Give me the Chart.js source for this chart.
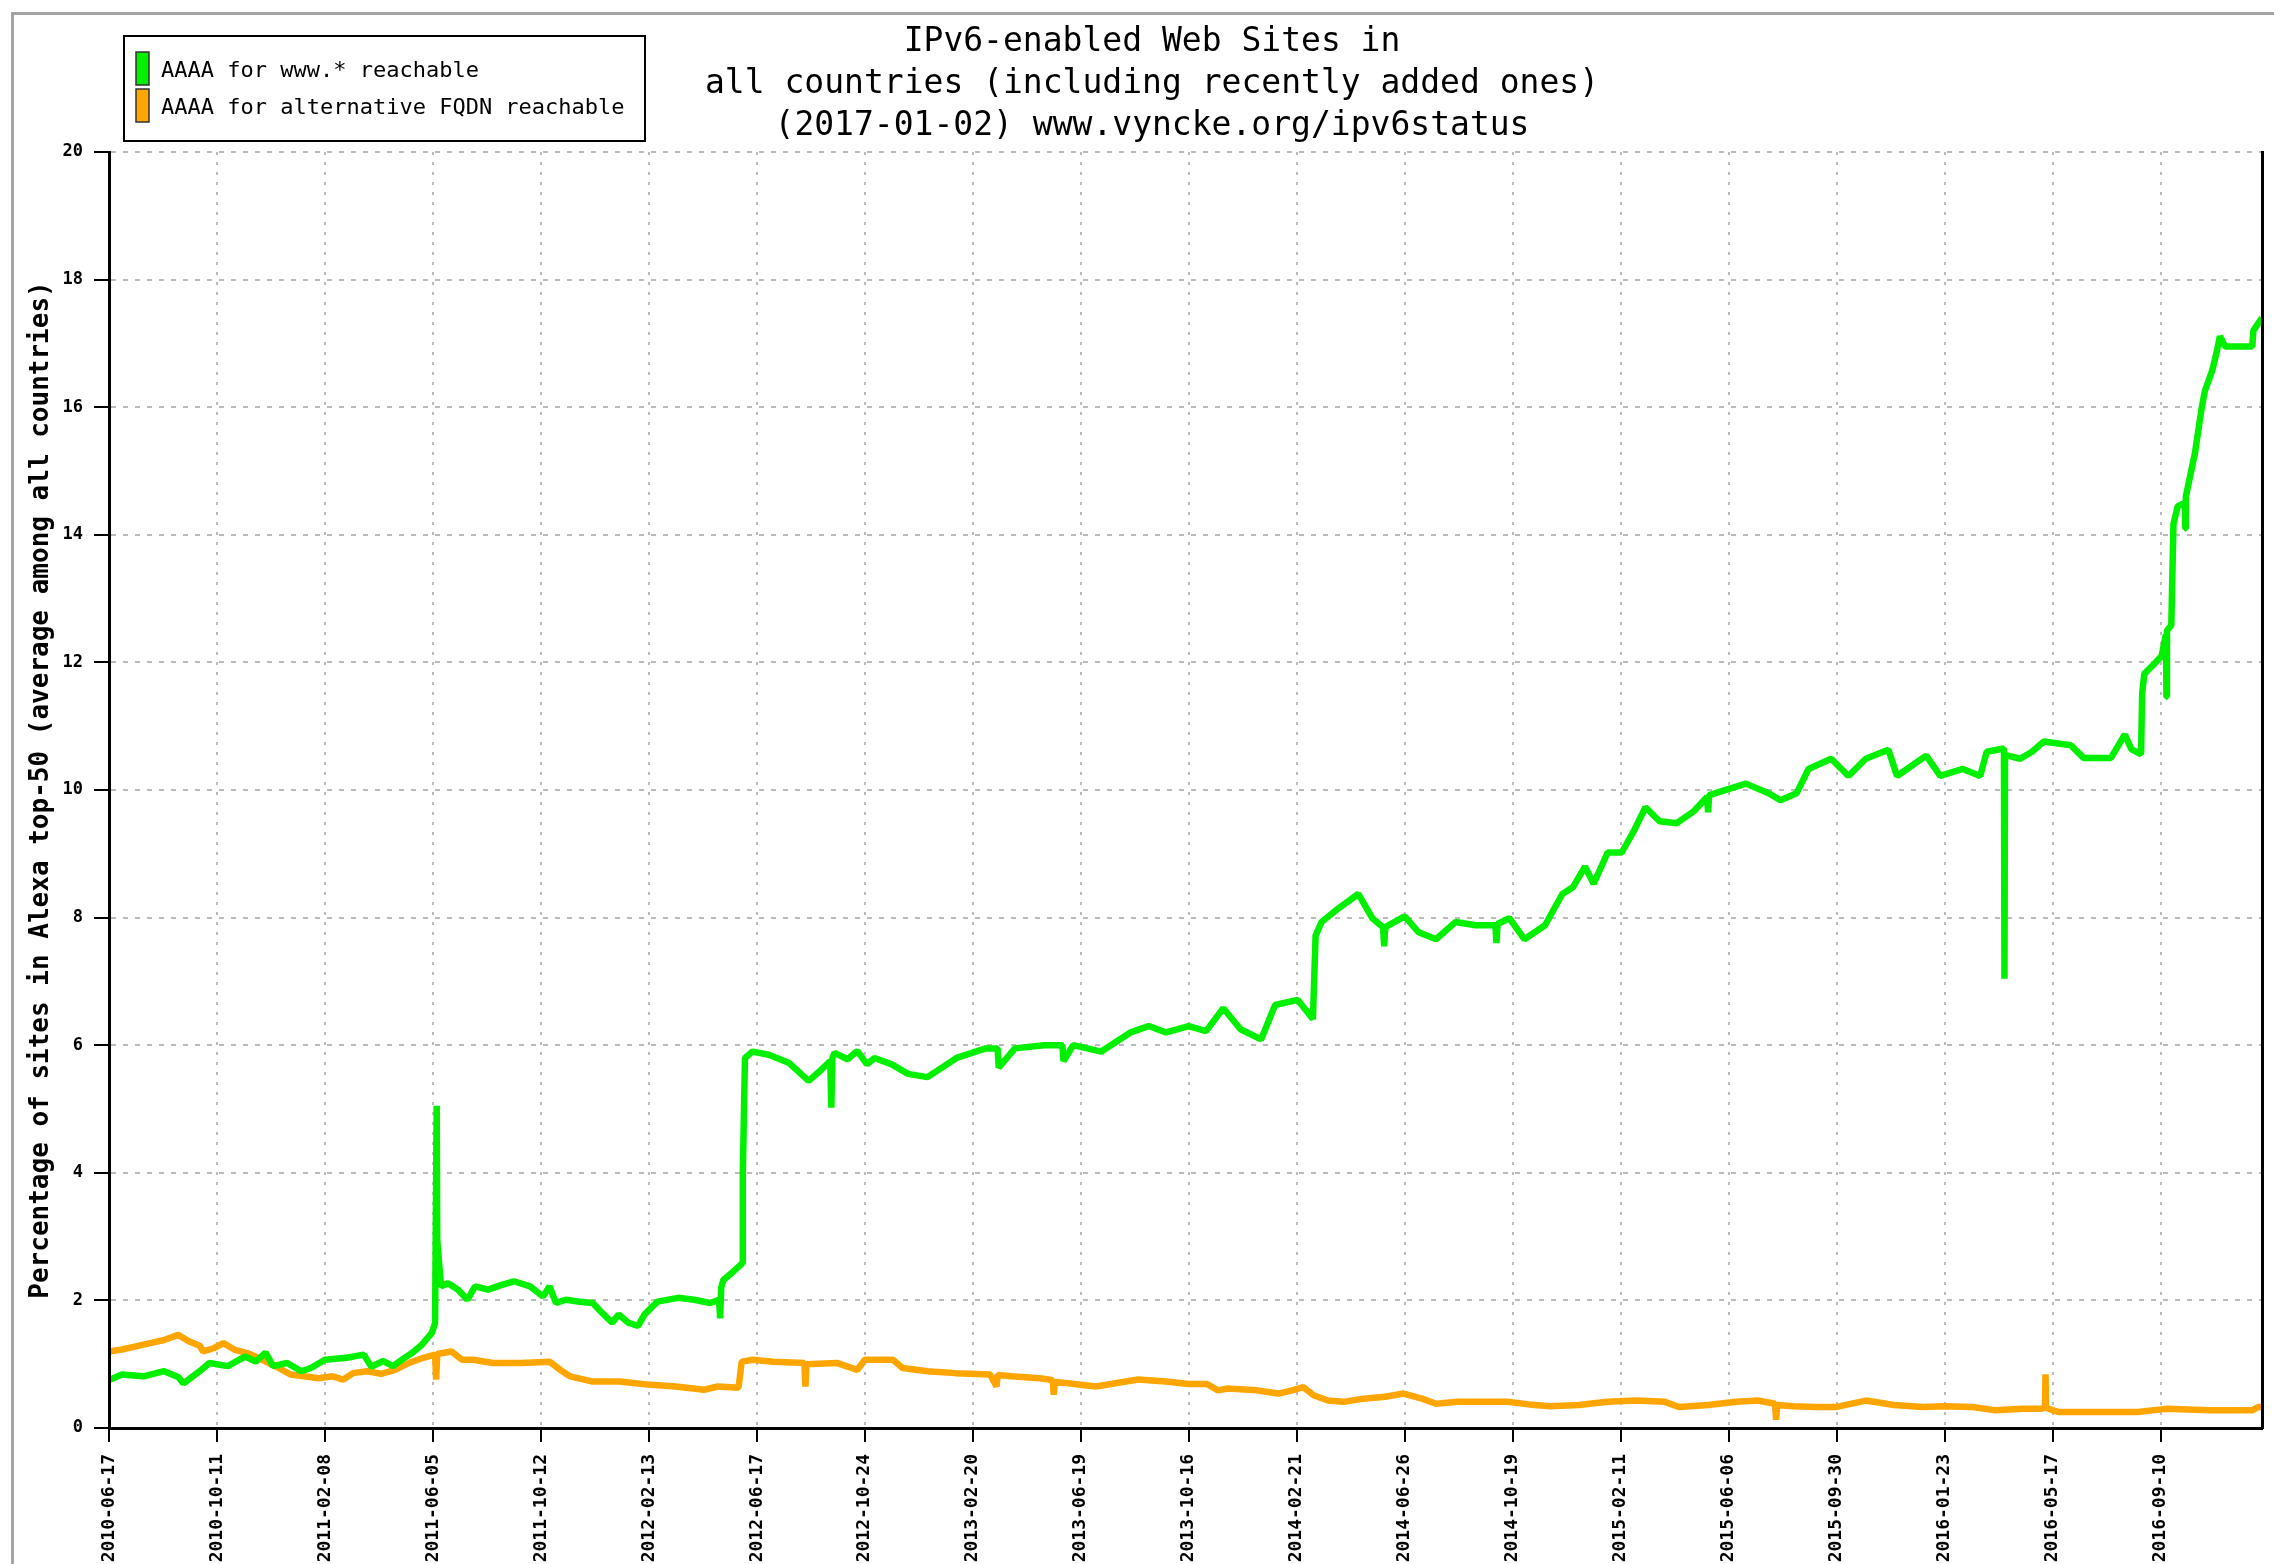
<!DOCTYPE html>
<html>
<head>
<meta charset="utf-8">
<script src="https://cdn.jsdelivr.net/npm/chart.js@4.4.1/dist/chart.umd.min.js"></script>
<style>
  html, body { margin: 0; padding: 0; background: #fff; overflow: hidden; }
  #wrap { position: relative; width: 2274px; height: 1564px; }
  #frame { position: absolute; left: 11px; top: 12px; width: 3000px; height: 3000px;
           border-top: 3px solid #a4a4a4; border-left: 3px solid #a4a4a4; pointer-events: none; }
</style>
</head>
<body>
<div id="wrap">
  <canvas id="ipv6"></canvas>
  <div id="frame"></div>
</div>
<script>
// tick labels, one every 10 samples on the x scale
var tickLabels = ['2010-06-17','2010-10-11','2011-02-08','2011-06-05','2011-10-12','2012-02-13',
  '2012-06-17','2012-10-24','2013-02-20','2013-06-19','2013-10-16','2014-02-21','2014-06-26',
  '2014-10-19','2015-02-11','2015-06-06','2015-09-30','2016-01-23','2016-05-17','2016-09-10'];

// AAAA for www.* reachable (green)
var wwwX = [0,1.2,3.2,5.1,6.4,6.9,8.4,9.3,11,12.6,13.6,14.5,15.2,16.5,17.8,18.7,20,22,23.6,24.3,
  25.4,26.3,27.2,28.1,29.0,29.9,30.2,30.35,30.4,30.75,31.4,32.3,33.2,33.9,35.1,36.3,37.5,39.0,39.6,40.2,
  40.8,41.4,42.3,43.6,44.8,45.7,46.6,47.2,48.1,49.0,49.6,50.8,52.7,54.2,55.7,56.5,56.6,56.7,56.9,57.8,
  58.65,58.7,58.9,59.6,61.1,63.0,64.8,66.0,66.8,66.9,67.0,67.2,68.4,69.3,70.2,70.9,72.5,74.0,75.8,78.5,
  81.2,82.3,82.4,83.9,86.6,88.3,88.4,89.3,91.9,94.6,96.3,97.9,100,101.6,103.2,104.8,106.7,108.0,110.1,111.5,
  111.75,112.3,113.9,115.7,117.0,118.0,118.1,118.2,120.0,121.3,122.9,124.7,126.6,128.4,128.5,128.6,129.7,131.1,133.0,134.6,
  135.6,136.7,137.5,138.8,140.1,141.2,142.3,143.6,145.2,146.8,148.0,148.1,148.2,151.6,153.7,154.8,156.3,157.4,159.5,161.1,
  162.7,164.8,165.6,168.3,169.6,171.7,173.3,173.9,175.5,175.55,175.6,177.0,178.1,179.2,181.7,182.9,185.4,186.7,187.3,188.2,
  188.3,188.5,189.5,190.1,190.5,190.55,190.6,191.0,191.2,191.6,192.25,192.3,192.35,193.2,193.5,193.8,194.1,194.8,195.2,195.5,
  196.0,198.5,198.6,199.4];
var wwwY = [0.75,0.84,0.81,0.89,0.8,0.7,0.89,1.02,0.97,1.12,1.04,1.18,0.97,1.02,0.89,0.94,1.07,1.1,1.15,0.96,
  1.05,0.97,1.08,1.18,1.31,1.49,1.65,5.05,2.95,2.22,2.27,2.17,2.01,2.22,2.17,2.24,2.3,2.22,2.14,2.06,
  2.22,1.96,2.01,1.98,1.96,1.8,1.65,1.78,1.65,1.6,1.78,1.98,2.04,2.01,1.96,2.01,1.72,2.2,2.32,2.45,
  2.58,3.98,5.8,5.9,5.85,5.72,5.44,5.62,5.75,5.02,5.8,5.88,5.78,5.91,5.7,5.8,5.7,5.55,5.5,5.8,
  5.95,5.95,5.65,5.95,6.0,6.0,5.75,6.0,5.9,6.2,6.3,6.2,6.3,6.22,6.58,6.25,6.09,6.63,6.71,6.41,
  7.72,7.93,8.15,8.37,7.99,7.85,7.55,7.85,8.02,7.77,7.66,7.93,7.88,7.88,7.6,7.9,7.99,7.66,7.88,8.37,
  8.48,8.8,8.53,9.02,9.02,9.35,9.73,9.51,9.48,9.67,9.89,9.65,9.92,10.1,9.95,9.84,9.95,10.33,10.49,10.22,
  10.49,10.63,10.22,10.54,10.22,10.33,10.22,10.6,10.65,7.04,10.55,10.49,10.6,10.76,10.7,10.5,10.5,10.87,10.64,10.56,
  11.51,11.82,11.99,12.1,12.44,11.46,12.5,12.58,14.17,14.45,14.5,14.1,14.6,15.29,15.63,15.97,16.25,16.58,16.86,17.11,
  16.95,16.95,17.2,17.4];

// AAAA for alternative FQDN reachable (orange)
var altX = [0,1.2,2.5,3.8,5.1,6.4,7.4,8.4,8.7,9.7,10.6,11.6,12.9,14.2,15.5,16.8,18.1,19.4,20.7,21.7,
  22.6,23.9,25.2,26.5,27.8,29.1,30.2,30.3,30.4,31.7,32.7,33.7,35.6,38.2,40.8,41.8,42.7,44.7,47.3,49.9,
  52.5,55.1,56.4,58.3,58.6,59.6,61.5,64.4,64.5,64.6,67.4,69.3,70.0,72.6,73.5,75.8,78.4,81.6,82.2,82.3,
  83.6,86.2,87.4,87.5,87.6,88.8,91.4,95.3,97.9,100,101.7,102.7,103.6,106.3,108.3,109.6,110.6,111.6,112.9,114.3,
  116.2,118.2,119.9,121.6,122.9,124.9,127.5,129.5,131.5,133.5,136.1,138.8,141.4,144.1,145.4,148.1,150.7,152.7,154.3,154.4,
  154.5,156.0,158.0,160.0,162.7,165.3,168.0,170.0,172.6,174.6,177.3,178.9,179.3,179.35,179.4,180.0,180.6,183.9,187.9,190.5,
  194.5,198.5,199.1,199.4];
var altY = [1.2,1.23,1.28,1.33,1.38,1.46,1.36,1.29,1.2,1.25,1.33,1.23,1.17,1.07,0.96,0.84,0.81,0.78,0.81,0.76,
  0.86,0.89,0.85,0.91,1.02,1.1,1.15,0.76,1.16,1.2,1.07,1.07,1.02,1.02,1.04,0.91,0.81,0.73,0.73,0.68,
  0.65,0.6,0.65,0.63,1.04,1.07,1.04,1.02,0.65,1.0,1.02,0.91,1.07,1.07,0.94,0.89,0.86,0.84,0.65,0.83,
  0.81,0.78,0.75,0.52,0.72,0.7,0.65,0.76,0.73,0.69,0.69,0.59,0.62,0.59,0.54,0.59,0.64,0.51,0.43,0.41,
  0.46,0.49,0.54,0.46,0.38,0.41,0.41,0.41,0.37,0.34,0.36,0.41,0.43,0.41,0.33,0.36,0.41,0.43,0.38,0.13,
  0.36,0.34,0.33,0.33,0.43,0.36,0.33,0.34,0.33,0.28,0.30,0.30,0.32,0.84,0.32,0.28,0.25,0.25,0.25,0.30,
  0.28,0.28,0.33,0.33];

var titleLines = ['IPv6-enabled Web Sites in', 'all countries (including recently added ones)',
  '(2017-01-02) www.vyncke.org/ipv6status'];

function pts(xs, ys) {
  return xs.map(function(x, i) { return {x: x, y: ys[i]}; });
}

var mono = "'DejaVu Sans Mono', 'Liberation Mono', monospace";

// legend drawn as a framed box in the top-left corner
var boxLegend = {
  id: 'boxLegend',
  afterDraw: function(chart) {
    var ctx = chart.ctx;
    ctx.save();
    ctx.lineWidth = 2;
    ctx.strokeStyle = '#000';
    ctx.strokeRect(124, 36, 521, 105);
    ctx.font = '22px ' + mono;
    ctx.textBaseline = 'middle';
    chart.data.datasets.forEach(function(ds, i) {
      var y = 52 + i * 37;
      ctx.fillStyle = ds.borderColor;
      ctx.fillRect(136, y, 13, 33);
      ctx.lineWidth = 1.5;
      ctx.strokeStyle = '#333';
      ctx.strokeRect(136, y, 13, 33);
      ctx.fillStyle = '#000';
      ctx.fillText(ds.label, 161, y + 19);
    });
    ctx.restore();
  }
};

var ctx = document.getElementById('ipv6');
var chart = new Chart(ctx, {
  type: 'line',
  data: {
    datasets: [{
      label: 'AAAA for www.* reachable',
      data: pts(wwwX, wwwY),
      borderColor: '#00f000',
      backgroundColor: '#00f000',
      borderWidth: 6.5,
      borderJoinStyle: 'bevel',
      pointRadius: 0,
      fill: false
    }, {
      label: 'AAAA for alternative FQDN reachable',
      data: pts(altX, altY),
      borderColor: '#ffa500',
      backgroundColor: '#ffa500',
      borderWidth: 6.5,
      borderJoinStyle: 'bevel',
      pointRadius: 0,
      fill: false
    }]
  },
  options: {
    responsive: true,
    maintainAspectRatio: false,
    animation: false,
    layout: { padding: { left: 30, right: 0, top: 0, bottom: 0 } },
    plugins: {
      legend: { display: false },
      tooltip: { enabled: false },
      title: {
        display: true,
        text: titleLines,
        color: '#000',
        font: { family: mono, size: 33, weight: 'normal', lineHeight: '42px' },
        padding: { top: 21, bottom: 5 }
      }
    },
    scales: {
      x: {
        type: 'linear',
        min: 0,
        max: 199.4,
        afterBuildTicks: function(s) {
          s.ticks = tickLabels.map(function(_, i) { return {value: i * 10}; });
        },
        afterFit: function(s) { s.height = 136; },
        ticks: {
          autoSkip: false,
          minRotation: 90,
          maxRotation: 90,
          padding: 12,
          color: '#000',
          font: { family: mono, size: 18, weight: 'bold' },
          callback: function(v) { return tickLabels[Math.round(v / 10)]; }
        },
        grid: {
          color: '#bbbbbb',
          lineWidth: 2,
          tickLength: 14,
          tickColor: '#000',
          tickWidth: 2,
          tickBorderDash: []
        },
        border: { color: '#000', width: 3, dash: [3, 7], z: 1 }
      },
      y: {
        min: 0,
        max: 20,
        afterFit: function(s) { s.width = 79; },
        ticks: {
          stepSize: 2,
          padding: 11,
          color: '#000',
          font: { family: mono, size: 17, weight: 'bold' }
        },
        grid: {
          color: '#bbbbbb',
          lineWidth: 2,
          tickLength: 15,
          tickColor: '#000',
          tickWidth: 2,
          tickBorderDash: []
        },
        border: { color: '#000', width: 3, dash: [5, 7], z: 1 },
        title: {
          display: true,
          text: 'Percentage of sites in Alexa top-50 (average among all countries)',
          color: '#000',
          font: { family: mono, size: 26, weight: 'bold', lineHeight: 1 },
          padding: { top: -2, bottom: 0 }
        }
      },
      yRight: {
        type: 'linear',
        position: 'right',
        afterFit: function(s) { s.width = 12; },
        ticks: { display: false },
        grid: { display: false, drawTicks: false },
        border: { color: '#000', width: 3, z: 1 }
      }
    }
  },
  plugins: [boxLegend]
});
</script>
</body>
</html>
